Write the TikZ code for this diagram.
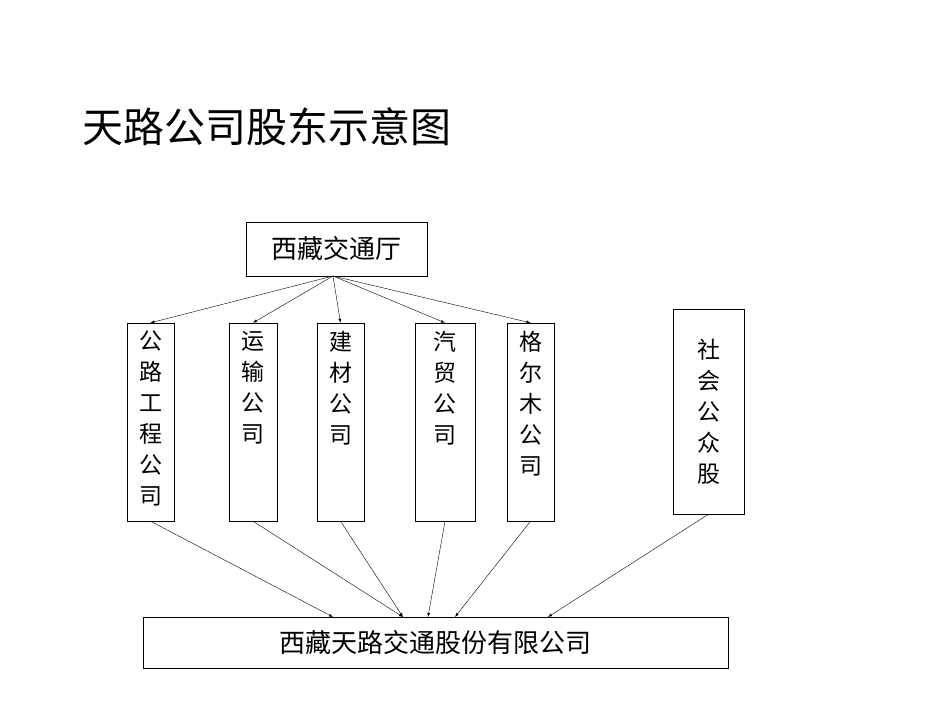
\documentclass[tikz,border=0pt]{standalone}
\usepackage{fontspec}
\usetikzlibrary{positioning}
\newfontfamily\cjk{Noto Sans CJK SC}
\begin{document}
\begin{tikzpicture}[x=1pt,y=-1pt,
  box/.style={draw, inner sep=0pt, font=\cjk\fontsize{26}{31}\selectfont, align=center},
  vbox/.style={draw, inner sep=0pt, minimum height=198pt},
  vtext/.style={inner sep=0pt, font=\cjk\fontsize{23}{31}\selectfont, align=center},
  link/.style={-latex, thin}]
\useasboundingbox (0,0) rectangle (950,713);
\node[anchor=west, inner sep=0pt, font=\cjk\fontsize{41}{44}\selectfont] (title) at (82,127) {天路公司股东示意图};
\node[box, minimum width=181pt, minimum height=54pt] (ting) at (336.5,249) {西藏交通厅};
\node[vbox, minimum width=47pt] (gonglu) at (150.5,422) {};
\node[vbox, minimum width=48pt] (yunshu) at (253,422) {};
\node[vbox, minimum width=47pt] (jiancai) at (340.5,422) {};
\node[vbox, minimum width=60pt] (qimao) at (445,422) {};
\node[vbox, minimum width=47pt] (geermu) at (530.5,422) {};
\node[vtext, below=8pt of gonglu.north] (gongluT) {公\\路\\工\\程\\公\\司};
\node[vtext, below=8pt of yunshu.north] (yunshuT) {运\\输\\公\\司};
\node[vtext, below=8pt of jiancai.north] (jiancaiT) {建\\材\\公\\司};
\node[vtext, below=8pt of qimao.north] (qimaoT) {汽\\贸\\公\\司};
\node[vtext, below=8pt of geermu.north] (geermuT) {格\\尔\\木\\公\\司};
\node[draw, vtext, minimum width=71pt, minimum height=205pt] (shehui) at (708.5,411.5) {社\\会\\公\\众\\股};
\node[box, minimum width=585pt, minimum height=51pt] (tianlu) at (435.5,642.5) {西藏天路交通股份有限公司};
\foreach \n in {gonglu,yunshu,jiancai,qimao,geermu}
  \draw[link] (333,276) -- (\n.north);
\draw[link] (gonglu.south) -- (333,617);
\draw[link] (yunshu.south) -- (403,617);
\draw[link] (jiancai.south) -- (403,617);
\draw[link] (qimao.south) -- (428,617);
\draw[link] (geermu.south) -- (455,617);
\draw[link] (shehui.south) -- (548,617);
\end{tikzpicture}
\end{document}
